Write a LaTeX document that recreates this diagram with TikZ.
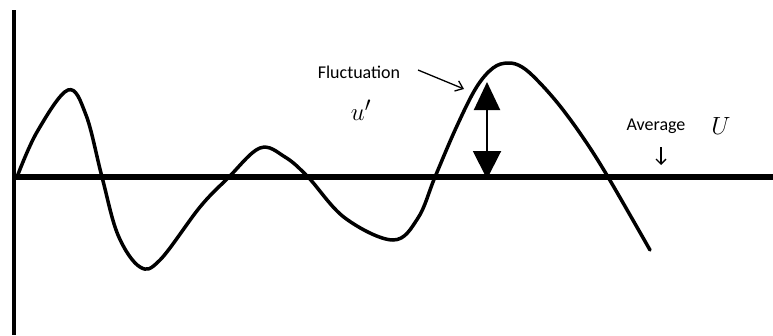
\documentclass[tikz,border=0pt]{standalone}
\usepackage{fontspec}
\setsansfont{Carlito}
\usetikzlibrary{arrows.meta}
\begin{document}
\begin{tikzpicture}[x=1pt,y=-1pt,
  lbl/.style={font=\sffamily\fontsize{18}{20}\selectfont, inner sep=0pt},
  sym/.style={font=\fontsize{29}{31}\selectfont, inner sep=0pt},
  axis/.style={line width=5.5pt},
  wave/.style={line width=3.5pt, line join=round, line cap=round},
  pointer/.style={line width=1.3pt, -{Straight Barb[length=7pt,width=11pt]}}]
\useasboundingbox (0,0) rectangle (773,335);
\fill[white] (0,0) rectangle (773,335);
% axes
\coordinate (vtop) at (14,10);
\coordinate (vbot) at (14,335);
\coordinate (hl) at (12,177);
\coordinate (hr) at (773,177);
\draw[line width=3.8pt] (vtop) -- (vbot);
\draw[axis] (hl) -- (hr);
% wave
\draw[wave] plot[smooth, tension=0.6] coordinates {
 (17,177) (37,132) (68,90) (86,115) (102,177) (118,235) (140,267)
 (160,260) (200,207) (228,178) (260,148) (285,157) (308,177)
 (345,218) (393,240) (418,218) (435,177) (456,128) (476,88)
 (493,68) (508,63) (522,67) (538,81) (560,106) (584,139) (608,177) (650,250)};
% double arrow
\coordinate (atop) at (487,82);
\coordinate (abot) at (487,179);
\draw[line width=2pt, {Triangle[length=28pt,width=26pt]}-{Triangle[length=28pt,width=28pt]}] (atop) -- (abot);
% labels
\node[lbl] (fluct) at (359,72) {Fluctuation};
\node[sym] (up) at (361,110) {$u'$};
\node[lbl] (avg) at (656,126) {Average};
\node[sym] (U) at (721,126) {$U$};
\coordinate (fstart) at (418,70);
\coordinate (fend) at (464,89);
\draw[pointer] (fstart) -- (fend);
\coordinate (astart) at (661,147);
\coordinate (aend) at (661,165);
\draw[pointer, -{Straight Barb[length=5pt,width=10pt]}] (astart) -- (aend);
\end{tikzpicture}
\end{document}
